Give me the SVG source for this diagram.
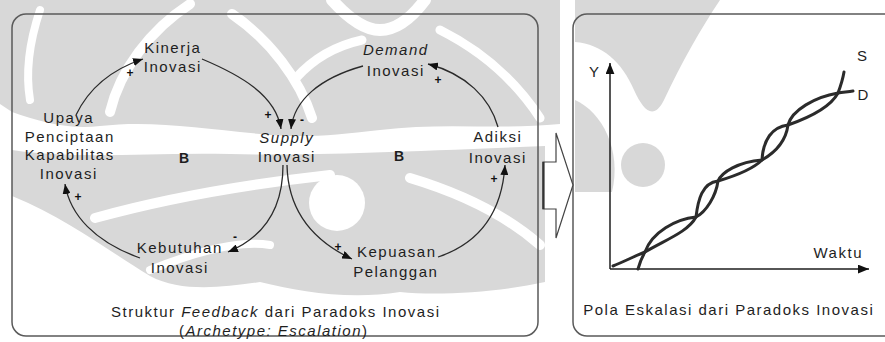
<svg xmlns="http://www.w3.org/2000/svg" width="885" height="342" viewBox="0 0 885 342">
  <defs>
    <marker id="head" viewBox="0 0 10 8" refX="10" refY="4" markerWidth="10" markerHeight="8" markerUnits="userSpaceOnUse" orient="auto">
      <path d="M0,0 L10,4 L0,8 Z" fill="#111"/>
    </marker>
    <marker id="axishead" viewBox="0 0 10 8" refX="10" refY="4" markerWidth="11" markerHeight="9" markerUnits="userSpaceOnUse" orient="auto">
      <path d="M0,0 L10,4 L0,8 Z" fill="#111"/>
    </marker>
  </defs>
  <style>
    .lbl { font-family: "Liberation Sans", Arial, sans-serif; font-size: 15px; letter-spacing: 1.5px; fill: #1e1e1e; text-anchor: middle; }
    .it { font-style: italic; }
    .loop { font-family: "Liberation Sans", Arial, sans-serif; font-size: 14px; font-weight: bold; fill: #1e1e1e; text-anchor: middle; }
    .sign { font-family: "Liberation Sans", Arial, sans-serif; font-size: 12px; font-weight: bold; fill: #111; text-anchor: middle; }
    .link { fill: none; stroke: #2a2a2a; stroke-width: 1.3; marker-end: url(#head); }
    .panel { fill: none; stroke: #5a5a5a; stroke-width: 1.5; }
    .wave { fill: none; stroke: #2b2b2b; stroke-width: 3; stroke-linecap: round; }
    .axis { fill: none; stroke: #1e1e1e; stroke-width: 1.5; marker-end: url(#axishead); }
    .emb { fill: #d8d8d8; }
    .cut { fill: none; stroke: #ffffff; stroke-linecap: round; }
  </style>

  <rect width="885" height="342" fill="#ffffff"/>

  <!-- faint emblem in the background -->
  <g id="emblem">
    <path class="emb" d="M0,0 H560 V124 C500,130 440,122 380,130 C330,136 300,138 260,134 C200,128 150,120 100,126 C70,130 40,122 12,112 L0,104 Z"/>
    <path class="emb" d="M12,150 C80,160 150,152 230,154 C300,156 400,152 545,146 L545,282 C500,292 440,296 400,292 C350,300 300,292 260,282 C220,288 180,292 150,276 C110,252 70,220 12,196 Z"/>
    <path class="emb" d="M575,0 H720 C700,30 682,62 664,100 C654,120 644,112 634,90 C622,62 602,44 575,42 Z"/>
    <path class="emb" d="M575,100 C602,112 622,150 612,192 L575,192 Z"/>
    <circle class="emb" cx="643" cy="165" r="22"/>
    <path class="cut" stroke-width="10" d="M190,4 C150,30 120,70 110,112"/>
    <path class="cut" stroke-width="8" d="M40,10 C30,40 25,70 30,100"/>
    <path class="cut" stroke-width="9" d="M296,78 C312,60 335,46 362,40"/>
    <path class="cut" stroke-width="10" d="M232,14 C270,40 300,80 312,118"/>
    <path class="cut" stroke-width="12" d="M332,0 C350,20 365,30 380,30 C395,30 410,20 425,0"/>
    <path class="cut" stroke-width="9" d="M440,30 C480,50 515,80 540,118"/>
    <path class="cut" stroke-width="10" d="M95,218 C160,200 240,185 330,175"/>
    <path class="cut" stroke-width="10" d="M410,178 C450,190 500,210 540,245"/>
    <path class="cut" stroke-width="8" d="M150,270 C200,250 240,240 270,245"/>
    <circle cx="337" cy="203" r="28" fill="#ffffff"/>
  </g>

  <!-- panels and the arrow between them -->
  <g id="panels">
    <rect class="panel" x="12" y="14" width="526" height="322" rx="14"/>
    <path class="panel" d="M890,14 H587 A14,14 0 0 0 573,28 V322 A14,14 0 0 0 587,336 H890"/>
    <polygon points="543,162 556,162 556,133 573,185 556,238 556,209 543,209" fill="#ffffff" stroke="#444" stroke-width="1.2"/>
    <line x1="543.5" y1="162" x2="543.5" y2="209" stroke="#333" stroke-width="2.2"/>
  </g>

  <!-- causal links -->
  <g id="connectors">
    <path class="link" d="M76,115 C88,90 110,70 143,59"/>
    <path class="link" d="M202,59 C240,75 276,95 281,129"/>
    <path class="link" d="M363,66 C320,78 294,100 291,129"/>
    <path class="link" d="M498,127 C490,98 466,74 428,64"/>
    <path class="link" d="M283,165 C283,210 262,238 228,252"/>
    <path class="link" d="M287,165 C288,215 318,243 352,259"/>
    <path class="link" d="M438,257 C480,243 502,212 505,165"/>
    <path class="link" d="M140,258 C95,242 70,215 65,184"/>
    <text class="sign" x="130" y="77">+</text>
    <text class="sign" x="268" y="119">+</text>
    <text class="sign" x="302" y="124">-</text>
    <text class="sign" x="438" y="84">+</text>
    <text class="sign" x="235" y="241">-</text>
    <text class="sign" x="338" y="251">+</text>
    <text class="sign" x="494" y="183">+</text>
    <text class="sign" x="78" y="201">+</text>
  </g>

  <g id="kinerja">
    <text class="lbl" x="172.75" y="53">Kinerja</text>
    <text class="lbl" x="172.75" y="72">Inovasi</text>
  </g>
  <g id="upaya">
    <text class="lbl" x="68.75" y="123">Upaya</text>
    <text class="lbl" x="69.75" y="142">Penciptaan</text>
    <text class="lbl" x="69.75" y="160">Kapabilitas</text>
    <text class="lbl" x="68.75" y="179">Inovasi</text>
  </g>
  <g id="supply">
    <text class="lbl it" x="286.75" y="143">Supply</text>
    <text class="lbl" x="286.75" y="162">Inovasi</text>
  </g>
  <g id="demand">
    <text class="lbl it" x="395.75" y="55">Demand</text>
    <text class="lbl" x="395.75" y="76">Inovasi</text>
  </g>
  <g id="adiksi">
    <text class="lbl" x="497.75" y="142">Adiksi</text>
    <text class="lbl" x="497.75" y="163">Inovasi</text>
  </g>
  <g id="kebutuhan">
    <text class="lbl" x="179.75" y="253">Kebutuhan</text>
    <text class="lbl" x="179.75" y="273">Inovasi</text>
  </g>
  <g id="kepuasan">
    <text class="lbl" x="396.75" y="257">Kepuasan</text>
    <text class="lbl" x="395.75" y="277">Pelanggan</text>
  </g>
  <g id="loops">
    <text class="loop" x="184" y="163">B</text>
    <text class="loop" x="399" y="161">B</text>
  </g>
  <g id="caption-left">
    <text class="lbl" x="275.75" y="317">Struktur <tspan class="it">Feedback</tspan> dari Paradoks Inovasi</text>
    <text class="lbl" x="273.75" y="336">(<tspan class="it">Archetype: Escalation</tspan>)</text>
  </g>

  <!-- escalation chart -->
  <g id="chart">
    <path class="axis" d="M610,269 V63"/>
    <path class="axis" d="M610,269 H869"/>
    <path class="wave" d="M638,269 C640,262 642,257 645,252 C652,232 676,219 696,217 C706,212 716,196 718,181 C722,172 738,162 762,160 C776,152 786,140 788,125 C792,110 815,97 838,93 C843,92 848,92 853,91"/>
    <path class="wave" d="M613,266 C623,262 635,256 645,252 C665,240 688,232 696,217 C698,200 702,183 718,181 C735,176 752,170 762,160 C763,140 772,127 788,125 C808,118 830,108 838,93 C841,85 843,78 844,72"/>
    <text class="lbl" x="594.75" y="77">Y</text>
    <text class="lbl" x="862.75" y="61">S</text>
    <text class="lbl" x="863.75" y="100">D</text>
    <text class="lbl" x="838.25" y="258">Waktu</text>
    <text class="lbl" x="728.75" y="315">Pola Eskalasi dari Paradoks Inovasi</text>
  </g>
</svg>
